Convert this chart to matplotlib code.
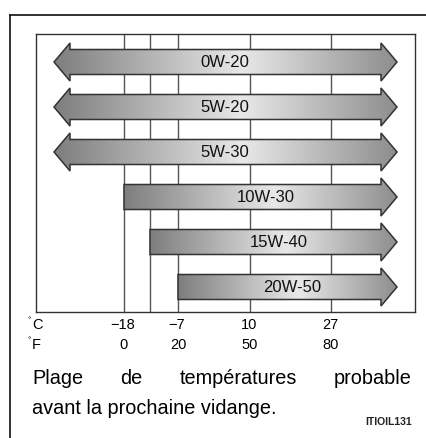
import numpy as np
import matplotlib.pyplot as plt
from matplotlib.patches import Polygon
from matplotlib.lines import Line2D
from matplotlib.colors import LinearSegmentedColormap

plt.rcParams['font.family'] = ['Liberation Sans', 'DejaVu Sans']

# oil grades, top to bottom, and the grid line where each one's range starts
# (None = open to the left, i.e. valid at any low temperature)
grades = ['0W-20', '5W-20', '5W-30', '10W-30', '15W-40', '20W-50']
low_limit = [None, None, None, 0, 1, 2]

# temperature scale lines (the second line has no label)
celsius = ['\u221218', '', '\u22127', '10', '27']
fahrenheit = ['0', '', '20', '50', '80']
caption_1 = ['Plage', 'de', 'températures', 'probable']
caption_2 = 'avant la prochaine vidange.'
ref_code = 'ITIOIL131'

W, H = 427, 438
fig = plt.figure(figsize=(W / 100, H / 100), dpi=100)

# inner chart box in pixels
bx0, by0, bx1, by1 = 36, 34, 415, 312
ax = fig.add_axes([bx0 / W, 1 - by1 / H, (bx1 - bx0) / W, (by1 - by0) / H])
ax.set_xticks([])
ax.set_yticks([])
for s in ax.spines.values():
    s.set_color('#333333')
    s.set_linewidth(1.0)

grid_x = [88, 114, 142, 214, 295]
for gx in grid_x:
    ax.axvline(gx, color='#555555', lw=1.0, zorder=1)

# arrow layout
left_tip, right_tip = 18, 361
head_len = 16
shaft_h, head_h = 12.5, 19
row_y0, row_dy = 28, 45

cmap = LinearSegmentedColormap.from_list(
    'oil', [(0, '#7e7e7e'), (0.55, '#e8e8e8'), (1, '#8e8e8e')])
grad = np.linspace(0, 1, 256).reshape(1, -1)

for i, (g, lo) in enumerate(zip(grades, low_limit)):
    yc = row_y0 + i * row_dy
    xr = right_tip - head_len
    if lo is None:
        x0 = left_tip
        xl = left_tip + head_len
        pts = [(x0, yc), (xl, yc - head_h), (xl, yc - shaft_h),
               (xr, yc - shaft_h), (xr, yc - head_h), (right_tip, yc),
               (xr, yc + head_h), (xr, yc + shaft_h), (xl, yc + shaft_h),
               (xl, yc + head_h)]
        tx = (x0 + right_tip) / 2 - 1
    else:
        x0 = grid_x[lo]
        pts = [(x0, yc - shaft_h), (xr, yc - shaft_h), (xr, yc - head_h),
               (right_tip, yc), (xr, yc + head_h), (xr, yc + shaft_h),
               (x0, yc + shaft_h)]
        tx = (x0 + right_tip) / 2 + 5
    poly = Polygon(pts, closed=True, facecolor='none', edgecolor='#333333',
                   lw=1.1, zorder=4, joinstyle='miter')
    ax.add_patch(poly)
    im = ax.imshow(grad, cmap=cmap, aspect='auto', zorder=3,
                   extent=(x0, right_tip, yc + head_h, yc - head_h),
                   interpolation='bilinear')
    im.set_clip_path(poly)
    ax.text(tx, yc + 0.5, g, ha='center', va='center',
            fontsize=12, color='#111111', zorder=5)

ax.set_xlim(0, bx1 - bx0)
ax.set_ylim(by1 - by0, 0)

# temperature labels under the box
lab_fs = 10.5
yc_lab = 325 - by0
yf_lab = 345 - by0
for y, unit in [(yc_lab, 'C'), (yf_lab, 'F')]:
    ax.text(-8, y - 4, '°', fontsize=6, ha='left', va='center', clip_on=False)
    ax.text(-4, y, unit, fontsize=lab_fs, ha='left', va='center', clip_on=False)
for gx, c, f in zip(grid_x, celsius, fahrenheit):
    ax.text(gx - 1, yc_lab, c, fontsize=lab_fs, ha='center', va='center', clip_on=False)
    ax.text(gx, yf_lab, f, fontsize=lab_fs, ha='center', va='center', clip_on=False)

# outer frame (top and left edges only)
fig.add_artist(Line2D([10 / W, 1], [1 - 15 / H, 1 - 15 / H], color='#111111', lw=1.2))
fig.add_artist(Line2D([10 / W, 10 / W], [1 - 15 / H, 0], color='#111111', lw=1.2))

# justified caption, first line spread between the margins
cap_x0, cap_x1 = 32, 412
cap_fs = 14.3
fig.canvas.draw()
r = fig.canvas.get_renderer()
words = [fig.text(0, 0, w, fontsize=cap_fs) for w in caption_1]
widths = [t.get_window_extent(r).width for t in words]
gap = (cap_x1 - cap_x0 - sum(widths)) / (len(words) - 1)
x = cap_x0
for t, w in zip(words, widths):
    t.set_position((x / W, 1 - 378 / H))
    t.set_va('center')
    x += w + gap
fig.text(cap_x0 / W, 1 - 408 / H, caption_2, fontsize=cap_fs, va='center')

fig.text(412 / W, 1 - 422 / H, ref_code, fontsize=7.5, ha='right', va='center',
         fontweight='bold', color='#222222')

fig.savefig('out.png', dpi=100)
